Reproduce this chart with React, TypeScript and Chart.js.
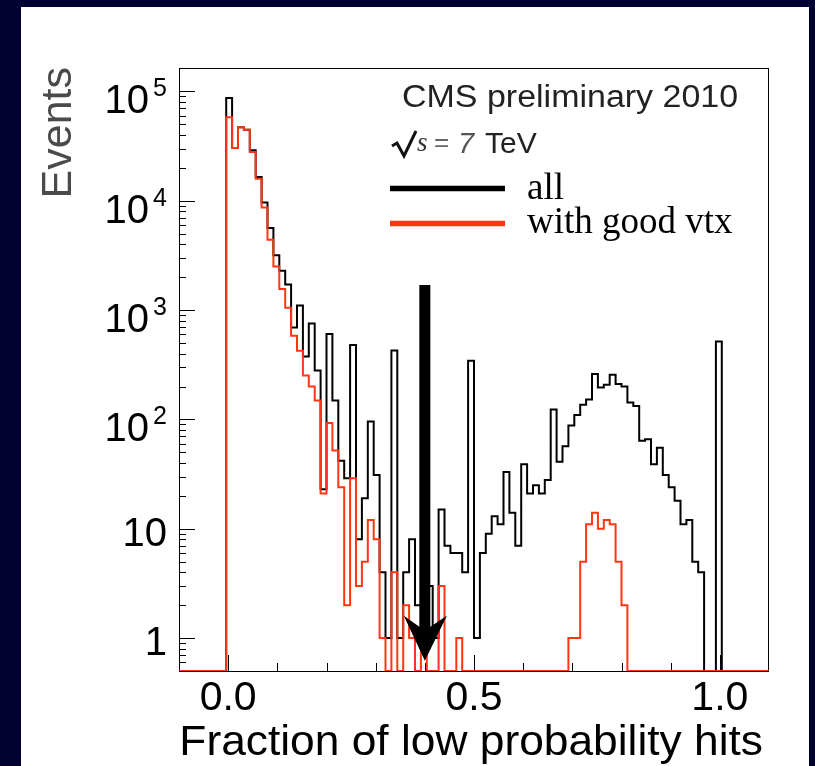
import React, { useEffect, useRef } from 'react';
import { Chart, registerables } from 'chart.js';

Chart.register(...registerables);

// ---- Data ----------------------------------------------------------------
// Histogram binning: 100 bins from -0.1 to 1.1
const BIN_LOW = -0.1;
const BIN_WIDTH = 0.012;

// Events per bin, "all"
const ALL_COUNTS = [
  0, 0, 0, 0, 0, 0, 0, 0,
  87000, 30400, 47000, 44700, 29000, 16500, 9660, 5640, 3170, 2290,
  1720, 695, 1100, 377, 755, 281, 23, 604, 149, 42,
  29, 480, 8, 19, 96, 31, 4, 1, 428, 1,
  4, 8, 2, 2, 3, 1, 15, 7, 6, 6,
  4, 344, 1, 6, 9, 13, 11, 33, 14, 7,
  39, 21, 25, 21, 28, 123, 41, 57, 88, 110,
  136, 152, 261, 196, 208, 256, 211, 200, 143, 133,
  64, 66, 39, 55, 31, 24, 18, 11, 12, 5,
  4, 0, 0, 517,
  0, 0, 0, 0, 0, 0, 0, 0,
];

// Events per bin, "with good vtx"
const GOODVTX_COUNTS = [
  0, 0, 0, 0, 0, 0, 0, 0,
  58000, 30400, 47000, 44700, 28000, 15900, 8700, 4400, 2510, 1560,
  1050, 583, 425, 253, 200, 149, 21, 93, 52, 24,
  2, 29, 3, 5, 12, 8, 1, 0, 4, 0,
  2, 1, 0, 1, 0, 0, 3, 0, 0, 1,
  0, 0, 0, 0, 0, 0, 0, 0, 0, 0,
  0, 0, 0, 0, 0, 0, 0, 0, 1, 1,
  5, 11, 14, 10, 12, 11, 5, 2, 0, 0,
  0, 0, 0, 0, 0, 0, 0, 0, 0, 0,
  0, 0, 0, 0,
  0, 0, 0, 0, 0, 0, 0, 0,
];

const X_MIN = -0.1;
const X_MAX = 1.1;
const Y_MIN = 0.5;
const Y_MAX = 1.64e5;

const X_TICK_VALUES = [0, 0.5, 1.0];
const X_TICK_LABELS = ['0.0', '0.5', '1.0'];
const Y_TICK_VALUES = [1, 10, 100, 1000, 10000, 100000];
const Y_TICK_LABELS = ['1', '10', '10^2', '10^3', '10^4', '10^5'];

const X_TITLE = 'Fraction of low probability hits';
const Y_TITLE = 'Events';
const SERIES_NAMES = ['all', 'with good vtx'];
const HEADER = 'CMS preliminary 2010';

// cut arrow
const ARROW_X = 0.4;
const ARROW_TOP = 1700;
const ARROW_TIP = 0.62;

const RED = '#ff3515';
const NAVY = '#020230';
const SANS = '"Liberation Sans", Arial, Helvetica, sans-serif';
const SERIF = '"Liberation Serif", "Times New Roman", serif';

function toSteps(counts: number[]) {
  const pts = counts.map((c, k) => ({ x: BIN_LOW + k * BIN_WIDTH, y: c > 0 ? c : Y_MIN }));
  const last = counts[counts.length - 1];
  pts.push({ x: BIN_LOW + counts.length * BIN_WIDTH, y: last > 0 ? last : Y_MIN });
  return pts;
}

function txt(
  ctx: CanvasRenderingContext2D,
  s: string,
  x: number,
  y: number,
  font: string,
  color: string,
  align: CanvasTextAlign = 'left',
  sx = 1,
) {
  ctx.save();
  ctx.font = font;
  ctx.fillStyle = color;
  ctx.textAlign = align;
  ctx.textBaseline = 'alphabetic';
  ctx.translate(x, y);
  ctx.scale(sx, 1);
  ctx.fillText(s, 0, 0);
  ctx.restore();
}

const decorPlugin = {
  id: 'rootStyle',
  beforeDraw(chart: any) {
    const ctx: CanvasRenderingContext2D = chart.ctx;
    ctx.save();
    ctx.fillStyle = NAVY;
    ctx.fillRect(0, 0, chart.width, chart.height);
    ctx.fillStyle = '#ffffff';
    ctx.fillRect(21, 7, 788, chart.height - 7);
    ctx.restore();
  },
  beforeDatasetsDraw(chart: any) {
    const ctx: CanvasRenderingContext2D = chart.ctx;
    const ca = chart.chartArea;
    const xs = chart.scales.x;
    const ys = chart.scales.y;
    ctx.save();
    ctx.strokeStyle = '#000';
    ctx.lineWidth = 1;
    ctx.strokeRect(Math.round(ca.left) + 0.5, Math.round(ca.top) + 0.5, Math.round(ca.right - ca.left) - 1, Math.round(ca.bottom - ca.top));
    // y ticks (inside)
    ctx.beginPath();
    for (let e = -1; e <= 5; e++) {
      for (let m = 1; m <= 9; m++) {
        const v = m * Math.pow(10, e);
        if (v <= Y_MIN * 1.001 || v >= Y_MAX) continue;
        const py = Math.round(ys.getPixelForValue(v)) + 0.5;
        const len = m === 1 ? 16 : 7;
        ctx.moveTo(ca.left, py);
        ctx.lineTo(ca.left + len, py);
      }
    }
    // x ticks (inside)
    for (let i = 0; i <= 10; i++) {
      const v = i / 10;
      const px = Math.round(xs.getPixelForValue(v)) + 0.5;
      const len = i % 5 === 0 ? 16 : 8;
      ctx.moveTo(px, ca.bottom);
      ctx.lineTo(px, ca.bottom - len);
    }
    ctx.stroke();
    ctx.restore();
  },
  afterDraw(chart: any) {
    const ctx: CanvasRenderingContext2D = chart.ctx;
    const xs = chart.scales.x;
    const ys = chart.scales.y;

    // y tick labels
    Y_TICK_VALUES.forEach((v, i) => {
      const lab = Y_TICK_LABELS[i];
      const py = ys.getPixelForValue(v);
      if (lab.includes('^')) {
        const [base, exp] = lab.split('^');
        const supFont = `25px ${SANS}`;
        ctx.save();
        ctx.font = supFont;
        const w = ctx.measureText(exp).width;
        ctx.restore();
        txt(ctx, exp, 167, py + 5, supFont, '#000', 'right');
        txt(ctx, base, 167 - w - 4, py + 22, `40px ${SANS}`, '#000', 'right');
      } else {
        txt(ctx, lab, 167, py + 17, `40px ${SANS}`, '#000', 'right');
      }
    });

    // x tick labels
    X_TICK_VALUES.forEach((v, i) => {
      txt(ctx, X_TICK_LABELS[i], xs.getPixelForValue(v), 710, `41px ${SANS}`, '#000', 'center');
    });

    // axis titles
    txt(ctx, X_TITLE, 763, 755, `42px ${SANS}`, '#000', 'right', 1.055);
    ctx.save();
    ctx.translate(71, 67);
    ctx.rotate(-Math.PI / 2);
    ctx.font = `43px ${SANS}`;
    ctx.fillStyle = '#4a4a4a';
    ctx.textAlign = 'right';
    ctx.fillText(Y_TITLE, 0, 0);
    ctx.restore();

    // header
    txt(ctx, HEADER, 402, 106.7, `31px ${SANS}`, '#222', 'left', 1.096);

    // sqrt(s) = 7 TeV
    ctx.save();
    ctx.strokeStyle = '#111';
    ctx.lineWidth = 3;
    ctx.lineJoin = 'miter';
    ctx.beginPath();
    ctx.moveTo(392, 146);
    ctx.lineTo(397, 143);
    ctx.lineTo(404, 156);
    ctx.lineTo(416, 131);
    ctx.stroke();
    ctx.restore();
    txt(ctx, 's', 417, 151, `italic 27px ${SERIF}`, '#333');
    txt(ctx, '=', 434, 151, `26px ${SANS}`, '#666');
    txt(ctx, '7', 458, 153, `italic 29px ${SANS}`, '#555');
    txt(ctx, 'TeV', 485, 153.3, `30px ${SANS}`, '#222');

    // legend
    ctx.save();
    ctx.lineWidth = 5.5;
    ctx.strokeStyle = '#000';
    ctx.beginPath();
    ctx.moveTo(390, 188.5);
    ctx.lineTo(505, 188.5);
    ctx.stroke();
    ctx.strokeStyle = RED;
    ctx.beginPath();
    ctx.moveTo(390, 223.5);
    ctx.lineTo(505, 223.5);
    ctx.stroke();
    ctx.restore();
    txt(ctx, SERIES_NAMES[0], 527, 199, `37px ${SERIF}`, '#000');
    txt(ctx, SERIES_NAMES[1], 527, 232.7, `37px ${SERIF}`, '#000');

    // cut arrow
    const ax = xs.getPixelForValue(ARROW_X);
    const atop = ys.getPixelForValue(ARROW_TOP);
    const atip = ys.getPixelForValue(ARROW_TIP);
    ctx.save();
    ctx.fillStyle = '#000';
    ctx.beginPath();
    ctx.moveTo(ax - 5.5, atop);
    ctx.lineTo(ax + 5.5, atop);
    ctx.lineTo(ax + 5.5, atip - 34);
    ctx.lineTo(ax + 22, atip - 45);
    ctx.lineTo(ax, atip);
    ctx.lineTo(ax - 21, atip - 45);
    ctx.lineTo(ax - 5.5, atip - 34);
    ctx.closePath();
    ctx.fill();
    ctx.restore();
  },
};

export default function App() {
  const ref = useRef<HTMLCanvasElement>(null);
  useEffect(() => {
    const canvas = ref.current;
    if (!canvas) return;
    const chart = new Chart(canvas, {
      type: 'line',
      data: {
        datasets: [
          {
            label: SERIES_NAMES[1],
            data: toSteps(GOODVTX_COUNTS),
            borderColor: RED,
            borderWidth: 2,
            pointRadius: 0,
            stepped: 'before',
            fill: false,
            tension: 0,
            order: 0,
          },
          {
            label: SERIES_NAMES[0],
            data: toSteps(ALL_COUNTS),
            borderColor: '#000',
            borderWidth: 2,
            pointRadius: 0,
            stepped: 'before',
            fill: false,
            tension: 0,
            order: 1,
          },
        ],
      },
      options: {
        responsive: false,
        animation: false,
        devicePixelRatio: 1,
        events: [],
        layout: { padding: { left: 179, top: 68, right: 46, bottom: 95 } },
        plugins: { legend: { display: false }, tooltip: { enabled: false } },
        scales: {
          x: { type: 'linear', min: X_MIN, max: X_MAX, display: false },
          y: { type: 'logarithmic', min: Y_MIN, max: Y_MAX, display: false },
        },
      } as any,
      plugins: [decorPlugin],
    });
    return () => chart.destroy();
  }, []);
  return (
    <div style={{ position: 'fixed', left: 0, top: 0, width: 815, height: 766 }}>
      <canvas ref={ref} width={815} height={766} style={{ display: 'block', width: 815, height: 766 }} />
    </div>
  );
}
